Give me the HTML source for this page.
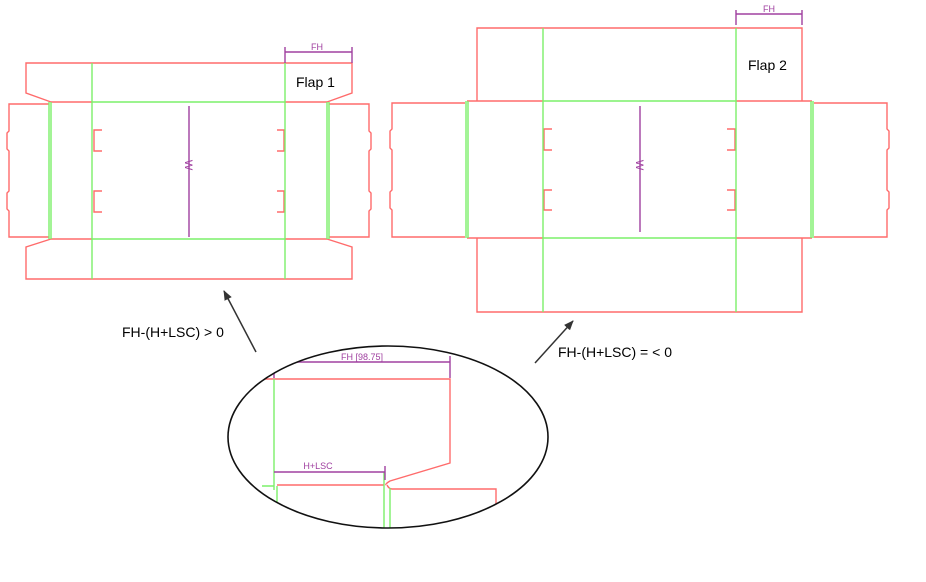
<!DOCTYPE html>
<html><head><meta charset="utf-8"><style>
html,body{margin:0;padding:0;background:#fff;}
svg{display:block;}
text{font-family:"Liberation Sans",sans-serif;}
</style></head><body>
<svg width="926" height="582" viewBox="0 0 926 582" xmlns="http://www.w3.org/2000/svg">
<defs>
<marker id="ah" markerWidth="10" markerHeight="10" refX="9" refY="5" orient="auto" markerUnits="userSpaceOnUse">
<path d="M0,1 L10,5 L0,9 Z" fill="#333"/></marker>
<clipPath id="ec"><ellipse cx="388" cy="437" rx="160" ry="91"/></clipPath>
</defs>
<g fill="none" stroke-width="1.4">
<g stroke="#ff6b6b">
<path d="M51,102 L26,93 L26,63 L352,63 L352,93 L327,102"/>
<path d="M51,239 L26,247 L26,279 L352,279 L352,247 L327,239"/>
<line x1="51" y1="102" x2="92" y2="102"/><line x1="285" y1="102" x2="327" y2="102"/>
<line x1="51" y1="239" x2="92" y2="239"/><line x1="285" y1="239" x2="327" y2="239"/>
<path d="M49,104 L9,104 L9,131 L7,133 L7,149 L9,151 L9,191 L7,193 L7,209 L9,211 L9,237 L49,237"/>
<path d="M329,104 L369,104 L369,131 L371,133 L371,149 L369,151 L369,191 L371,193 L371,209 L369,211 L369,237 L329,237"/>
<path d="M102,130 L94,130 L94,151 L102,151"/><path d="M102,191 L94,191 L94,212 L102,212"/>
<path d="M277,130 L284,130 L284,151 L277,151"/><path d="M277,191 L284,191 L284,212 L277,212"/>
</g>
<g stroke="#7cf06a">
<line x1="92" y1="63" x2="92" y2="279"/><line x1="285" y1="63" x2="285" y2="279"/>
<line x1="92" y1="102" x2="285" y2="102"/><line x1="92" y1="239" x2="285" y2="239"/>
<line x1="49" y1="102" x2="49" y2="239"/><line x1="51" y1="102" x2="51" y2="239"/>
<line x1="327" y1="102" x2="327" y2="239"/><line x1="329" y1="102" x2="329" y2="239"/>
</g>
<g stroke="#a040a0">
<line x1="189" y1="106" x2="189" y2="237"/>
<line x1="285" y1="47" x2="285" y2="63"/><line x1="352" y1="47" x2="352" y2="63"/>
<line x1="285" y1="52" x2="352" y2="52"/>
</g>
<g stroke="#ff6b6b">
<path d="M477,101 L477,28 L802,28 L802,101"/>
<path d="M477,238 L477,312 L802,312 L802,238"/>
<line x1="467" y1="101" x2="543" y2="101"/><line x1="736" y1="101" x2="812" y2="101"/>
<line x1="467" y1="238" x2="543" y2="238"/><line x1="736" y1="238" x2="812" y2="238"/>
<path d="M465,103 L392,103 L392,129 L390,131 L390,148 L392,150 L392,190 L390,192 L390,208 L392,210 L392,237 L465,237"/>
<path d="M814,103 L887,103 L887,129 L889,131 L889,148 L887,150 L887,190 L889,192 L889,208 L887,210 L887,237 L814,237"/>
<path d="M552,129 L544,129 L544,150 L552,150"/><path d="M552,190 L544,190 L544,210 L552,210"/>
<path d="M727,129 L735,129 L735,150 L727,150"/><path d="M727,190 L735,190 L735,210 L727,210"/>
</g>
<g stroke="#7cf06a">
<line x1="543" y1="28" x2="543" y2="312"/><line x1="736" y1="28" x2="736" y2="312"/>
<line x1="543" y1="101" x2="736" y2="101"/><line x1="543" y1="238" x2="736" y2="238"/>
<line x1="466" y1="101" x2="466" y2="238"/><line x1="468" y1="101" x2="468" y2="238"/>
<line x1="811" y1="101" x2="811" y2="238"/><line x1="813" y1="101" x2="813" y2="238"/>
</g>
<g stroke="#a040a0">
<line x1="640" y1="106" x2="640" y2="232"/>
<line x1="736" y1="10" x2="736" y2="25"/><line x1="802" y1="10" x2="802" y2="25"/>
<line x1="736" y1="14" x2="802" y2="14"/>
</g>
<g clip-path="url(#ec)">
<path stroke="#ff6b6b" d="M230,379 L450,379 L450,463 L390,481 Q385,484 386,485"/>
<path stroke="#ff6b6b" d="M277,485 L384,485"/>
<path stroke="#ff6b6b" d="M387,485 Q389,489 392,489 L496,489 L496,540"/>
<g stroke="#7cf06a">
<line x1="274" y1="379" x2="274" y2="490"/><line x1="262" y1="486" x2="274" y2="486"/>
<line x1="277" y1="486" x2="277" y2="540"/>
<line x1="384" y1="472" x2="384" y2="540"/><line x1="390" y1="488" x2="390" y2="540"/>
</g>
<g stroke="#a040a0">
<line x1="274" y1="356" x2="274" y2="378"/><line x1="450" y1="356" x2="450" y2="378"/>
<line x1="274" y1="362" x2="450" y2="362"/>
<line x1="274" y1="472" x2="385" y2="472"/><line x1="385" y1="466" x2="385" y2="480"/>
</g>
</g>
<ellipse cx="388" cy="437" rx="160" ry="91" stroke="#111" stroke-width="1.6"/>
<line x1="256" y1="352" x2="224" y2="291" stroke="#333" stroke-width="1.5" marker-end="url(#ah)"/>
<line x1="535" y1="363" x2="573" y2="321" stroke="#333" stroke-width="1.5" marker-end="url(#ah)"/>
</g>
<g fill="#a040a0" font-size="9">
<text x="317" y="50" text-anchor="middle">FH</text>
<text x="769" y="12" text-anchor="middle">FH</text>
<text x="362" y="360" text-anchor="middle">FH [98.75]</text>
<text x="318" y="469" text-anchor="middle">H+LSC</text>
<text transform="translate(185,165) rotate(90)" text-anchor="middle" font-size="11">W</text>
<text transform="translate(636,165) rotate(90)" text-anchor="middle" font-size="11">W</text>
</g>
<g fill="#000" font-size="14">
<text x="296" y="87">Flap 1</text>
<text x="748" y="70">Flap 2</text>
<text x="122" y="337">FH-(H+LSC) &gt; 0</text>
<text x="558" y="357">FH-(H+LSC) = &lt; 0</text>
</g>
</svg>
</body></html>
